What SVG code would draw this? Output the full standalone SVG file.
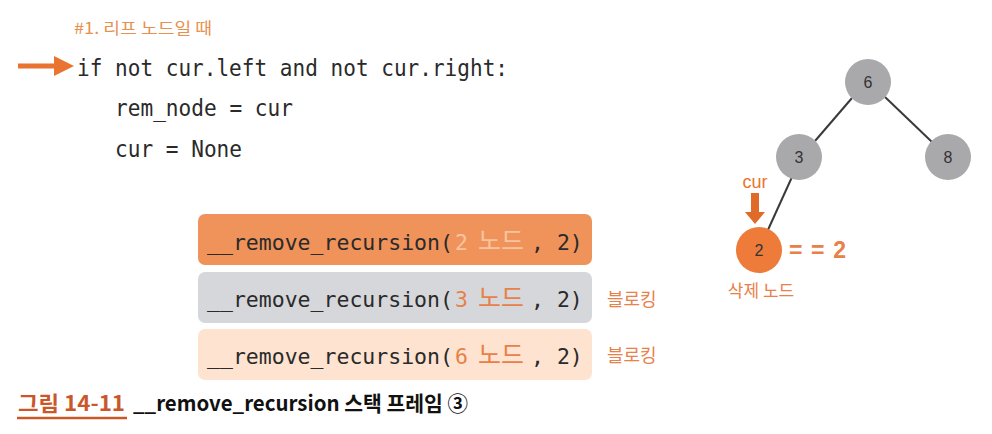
<svg xmlns="http://www.w3.org/2000/svg" width="992" height="434" viewBox="0 0 992 434">
<style>
.code{font-family:"DejaVu Sans Mono","Liberation Mono","Noto Sans CJK KR",monospace;font-size:23px;fill:#2a2a2a}
.bx{font-family:"DejaVu Sans Mono","Liberation Mono","Noto Sans CJK KR",monospace;font-size:21.5px;fill:#2a2a2a}
.bo{font-family:"DejaVu Sans Mono","Liberation Mono",monospace;font-size:21.5px;fill:#e8804a}
.bl{font-family:"DejaVu Sans Mono","Liberation Mono",monospace;font-size:21.5px;fill:#f8c4a0}
.kn{font-family:"Noto Sans CJK KR","Noto Sans",sans-serif;font-size:25px}
.ko{font-family:"Noto Sans CJK KR","Noto Sans",sans-serif}
.lbl{font-family:"Liberation Sans",Arial,sans-serif;font-size:16px;fill:#333;text-anchor:middle}
.edge{stroke:#3a3a3a;stroke-width:2;fill:none}
</style>
<defs>
<marker id="ah" markerWidth="4" markerHeight="4" refX="2" refY="2" orient="auto" markerUnits="strokeWidth">
<path d="M0,0 L4,2 L0,4 Z" fill="#e8742f"/>
</marker>
</defs>
<rect width="992" height="434" fill="#ffffff"/>
<text x="74" y="34" class="ko" font-size="16" fill="#e8904e" textLength="138" lengthAdjust="spacingAndGlyphs">#1. 리프 노드일 때</text>
<g id="pointer">
<line x1="18" y1="66" x2="64" y2="66" stroke="#e8742f" stroke-width="5" marker-end="url(#ah)"/>
</g>
<g id="code">
<text x="77" y="76" class="code" textLength="431" lengthAdjust="spacingAndGlyphs">if not cur.left and not cur.right:</text>
<text x="115" y="116" class="code" textLength="178" lengthAdjust="spacingAndGlyphs">rem_node = cur</text>
<text x="115" y="157" class="code" textLength="127" lengthAdjust="spacingAndGlyphs">cur = None</text>
</g>
<g id="frame1">
<rect x="198" y="214" width="394" height="51" rx="7" fill="#f0935a"/>
<text x="207" y="250" class="bx">__remove_recursion(</text>
<text x="455" y="250" class="bl">2</text>
<text x="478" y="250" class="kn" fill="#f8c4a0">노드</text>
<text x="531" y="250" class="bx">, 2)</text>
</g>
<g id="frame2">
<rect x="198" y="272" width="394" height="51" rx="7" fill="#d6d7da"/>
<text x="207" y="307" class="bx">__remove_recursion(</text>
<text x="455" y="307" class="bo">3</text>
<text x="478" y="307" class="kn" fill="#e8804a">노드</text>
<text x="531" y="307" class="bx">, 2)</text>
<text x="607" y="306" class="ko" font-size="18" fill="#e8804a">블로킹</text>
</g>
<g id="frame3">
<rect x="198" y="329" width="394" height="51" rx="7" fill="#fde3d0"/>
<text x="207" y="364" class="bx">__remove_recursion(</text>
<text x="455" y="364" class="bo">6</text>
<text x="478" y="364" class="kn" fill="#e8804a">노드</text>
<text x="531" y="364" class="bx">, 2)</text>
<text x="607" y="362" class="ko" font-size="18" fill="#e8804a">블로킹</text>
</g>
<g id="edges">
<line class="edge" x1="852" y1="98" x2="815" y2="141"/>
<line class="edge" x1="885" y1="97" x2="932" y2="142"/>
<line class="edge" x1="792" y1="177" x2="767" y2="232"/>
</g>
<g id="n6"><circle cx="868" cy="82" r="23" fill="#a9a9ac"/><text x="868" y="88" class="lbl">6</text></g>
<g id="n3"><circle cx="799" cy="157" r="23" fill="#a9a9ac"/><text x="799" y="163" class="lbl">3</text></g>
<g id="n8"><circle cx="948" cy="157" r="23" fill="#a9a9ac"/><text x="948" y="163" class="lbl">8</text></g>
<g id="n2"><circle cx="759" cy="250" r="23" fill="#ee7b3a"/><text x="759" y="256" class="lbl">2</text></g>
<g id="curptr">
<text x="755" y="188" font-family="Liberation Sans,Arial,sans-serif" font-size="18" fill="#e8742f" text-anchor="middle">cur</text>
<path d="M751,193 H759 V212 H765 L755,224 L745,212 H751 Z" fill="#e06a28"/>
</g>
<text x="789" y="258" font-family="Liberation Sans,Arial,sans-serif" font-size="23" font-weight="bold" fill="#e8804a" textLength="57" lengthAdjust="spacing">==2</text>
<text x="761" y="297" class="ko" font-size="17" fill="#e8804a" text-anchor="middle">삭제 노드</text>
<g id="caption">
<text x="18" y="411" class="ko" font-size="21" font-weight="bold" fill="#c9572a" textLength="107" lengthAdjust="spacingAndGlyphs">그림 14-11</text>
<line x1="17" y1="418" x2="127" y2="418" stroke="#c9572a" stroke-width="2.5"/>
<text x="133" y="411" class="ko" font-size="21" font-weight="bold" fill="#111" textLength="335" lengthAdjust="spacingAndGlyphs">__remove_recursion 스택 프레임 ③</text>
</g>
</svg>
